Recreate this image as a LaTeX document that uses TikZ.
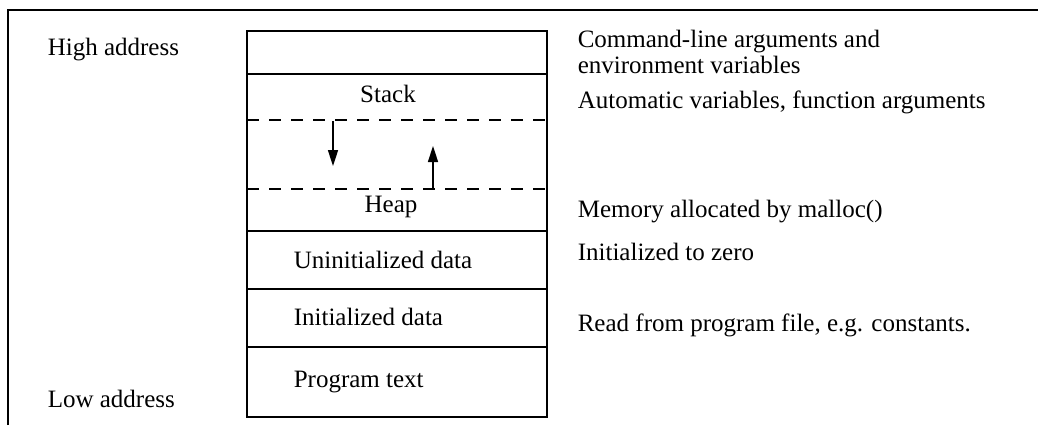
\documentclass[tikz,border=0pt]{standalone}
\usepackage{fontspec}
\setmainfont{Liberation Serif}
\usetikzlibrary{arrows.meta}
\tikzset{
  txt/.style={anchor=base west, inner sep=0pt, align=left,
    font=\fontsize{12.5}{13}\selectfont},
  midtxt/.style={txt, anchor=base},
  gapline/.style={dashed, dash pattern=on 6pt off 5pt},
  growarrow/.style={-{Triangle[length=8pt,width=5pt]}}
}
\begin{document}
\begin{tikzpicture}[x=0.5pt,y=-0.5pt,line width=0.8pt]
        \useasboundingbox (0,0) rectangle (1038,425);
        \draw (8,425) -- (8,10) -- (1038,10);
        % memory layout
        \draw (247,31) rectangle (547,417);
        \draw (247,74) -- (547,74);
        \draw[style = gapline] (247,120) -- (547,120);
        \draw[style = gapline] (247,189) -- (547,189);
        \draw (247,231) -- (547,231);
        \draw (247,289) -- (547,289);
        \draw (247,347) -- (547,347);
        \node[midtxt] (stack) at (388,102) {Stack};
        \node[midtxt] (heap) at (391,212) {Heap};
        \node[txt] (bss) at (293,268) {Uninitialized data};
        \node[txt] (data) at (293,325) {Initialized data};
        \node[txt] (text) at (293,387) {Program text};
        \coordinate (sfrom) at (333,121);
        \coordinate (sto) at (333,166);
        \coordinate (hfrom) at (433,188);
        \coordinate (hto) at (433,146);
        \draw[style = growarrow] (sfrom) -- (sto);
        \draw[style = growarrow] (hfrom) -- (hto);
        % addresses
        \node[txt] (high) at (47,55) {High address};
        \node[txt] (low) at (47,407) {Low address};
        % descriptions
        \node[txt] (args) at (577,73) {Command-line arguments and\\environment variables};
        \node[txt] (autovar) at (577,108) {Automatic variables, function arguments};
        \node[txt] (malloc) at (577,217) {Memory allocated by malloc()};
        \node[txt] (zero) at (577,260) {Initialized to zero};
        \node[txt] (file) at (577,331) {Read from program file, e.g. constants.};
\end{tikzpicture}
\end{document}
